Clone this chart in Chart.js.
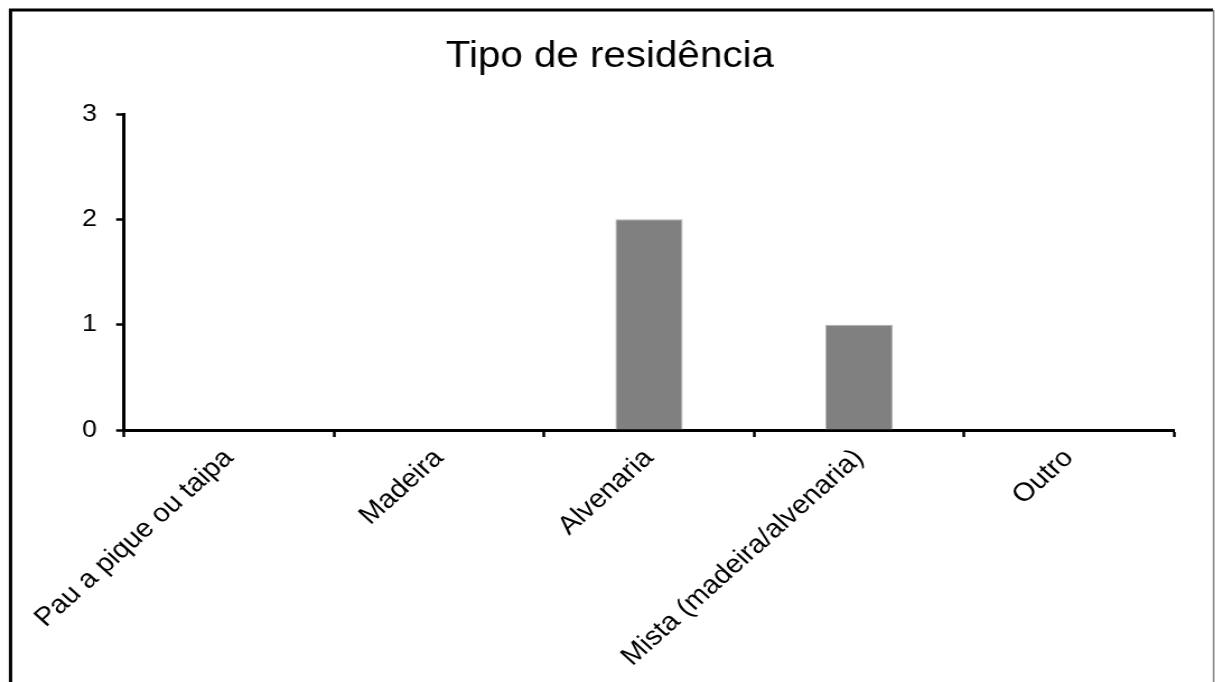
<!DOCTYPE html>
<html>
<head>
<meta charset="utf-8">
<title>Tipo de residência</title>
<script src="https://cdn.jsdelivr.net/npm/chart.js@4/dist/chart.umd.min.js"></script>
<style>
  html, body { margin: 0; padding: 0; background: #fff; overflow: hidden; }
  /* the original picture is a bit wider than tall, so stretch the canvas horizontally */
  #wrap { width: 1085px; height: 682px; transform: scaleX(1.12); transform-origin: 0 0; }
</style>
</head>
<body>
<div id="wrap"><canvas id="tipo-chart" width="1085" height="682"></canvas></div>
<script>
// Chart data
// ------------------------------
var categories = ["Pau a pique ou taipa", "Madeira", "Alvenaria", "Mista (madeira/alvenaria)", "Outro"];
var values = [0, 0, 2, 1, 0];
var yTicks = [0, 1, 2, 3];
var chartTitle = "Tipo de residência";

var fontFamily = "'Liberation Sans', Arial, sans-serif";

// frame round the whole picture + title centred on the full width
var framePlugin = {
    id: 'frame',
    afterDraw: function(chart) {
        var ctx = chart.ctx;
        ctx.save();
        ctx.strokeStyle = '#000';
        ctx.lineWidth = 3;
        ctx.beginPath();
        ctx.moveTo(9.4, 682);
        ctx.lineTo(9.4, 10);
        ctx.lineTo(1083, 10);
        ctx.stroke();
        ctx.strokeStyle = '#808080';
        ctx.lineWidth = 1.5;
        ctx.beginPath();
        ctx.moveTo(1083.6, 10);
        ctx.lineTo(1083.6, 682);
        ctx.stroke();

        // title
        ctx.fillStyle = '#000';
        ctx.font = "36px " + fontFamily;
        ctx.textAlign = 'center';
        ctx.textBaseline = 'alphabetic';
        ctx.fillText(chartTitle, 544.5, 67);
        ctx.restore();
    }
};

var chartData = {
    labels: categories,
    datasets: [{
        data: values,
        backgroundColor: '#808080',
        borderColor: '#b0b0b0',
        borderWidth: 1,
        barPercentage: 0.32,
        categoryPercentage: 1
    }]
};

var chartOptions = {
    responsive: false,
    animation: false,
    layout: { padding: { left: 0, right: 36.8, top: 114, bottom: 0 } },
    plugins: {
        legend: { display: false },
        tooltip: { enabled: false },
        title: { display: false }
    },
    scales: {
        x: {
            offset: true,
            border: { display: true, color: '#000', width: 3 },
            grid: {
                offset: true,
                drawOnChartArea: false,
                drawTicks: true,
                tickLength: 7,
                tickColor: '#000',
                tickWidth: 2.5
            },
            ticks: {
                color: '#000',
                font: { family: fontFamily, size: 26 },
                minRotation: 45,
                maxRotation: 45,
                autoSkip: false,
                padding: 6
            },
            afterFit: function(scale) { scale.height = 252; }
        },
        y: {
            min: yTicks[0],
            max: yTicks[yTicks.length - 1],
            border: { display: true, color: '#000', width: 3 },
            grid: {
                drawOnChartArea: false,
                drawTicks: true,
                tickLength: 7,
                tickColor: '#000',
                tickWidth: 2.5
            },
            ticks: {
                stepSize: 1,
                color: '#000',
                font: { family: fontFamily, size: 24 },
                padding: 17
            },
            afterFit: function(scale) { scale.width = 110.7; }
        }
    }
};

var config = {
    type: 'bar',
    data: chartData,
    options: chartOptions,
    plugins: [framePlugin]
};

// Create the chart
var tipoChart = new Chart(document.getElementById('tipo-chart'), config);
</script>
</body>
</html>
